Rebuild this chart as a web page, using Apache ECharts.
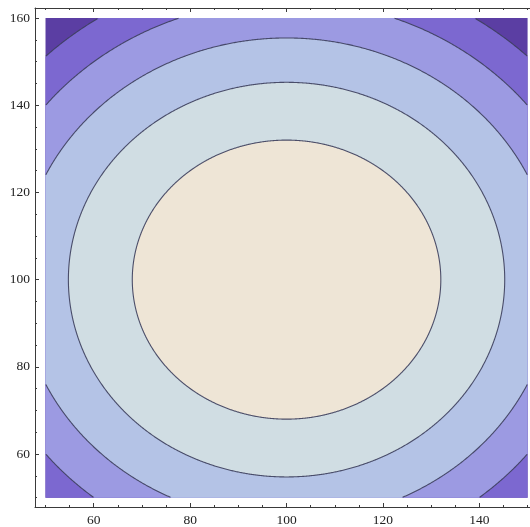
<!DOCTYPE html>
<html><head><meta charset="utf-8">
<script src="https://cdn.jsdelivr.net/npm/echarts@6/dist/echarts.min.js"></script>
<style>html,body{margin:0;padding:0;background:#fff}#c{width:530px;height:527px}</style>
</head><body><div id="c"></div>
<script>
// Plotted region and the function f(x,y) = (x-100)^2 + (y-100)^2
const xRange = [50, 150];
const yRange = [50, 160];
const centre = [100, 100];
// contour values of f (innermost first)
const contourLevels = [1024, 2048, 3072, 4096, 5120];
// band colours: inside level 0, between 0-1, ..., outside last level
const bandColors = ['#EEE5D6', '#D0DDE3', '#B4C3E6', '#9C9AE2', '#7C68D0', '#5B3EA3'];
const xTicks = [60, 80, 100, 120, 140];
const yTicks = [60, 80, 100, 120, 140, 160];

function minorTicks(lo, hi, step) {
  const out = [];
  for (let v = lo; v <= hi + 1e-9; v += step) out.push(v);
  return out;
}
const xMinor = minorTicks(50, 150, 5);
const yMinor = minorTicks(50, 160, 5);

const X_MIN = 47.82, X_MAX = 150.5, Y_MIN = 47.85, Y_MAX = 162.3;
const axisColor = '#3a3a3a';
const labelFont = { fontFamily: 'Liberation Serif', fontSize: 13.5, color: '#222' };

function clamp(v, a, b) { return Math.min(Math.max(v, a), b); }

function renderBackground(params, api) {
  const p0 = api.coord([api.value(0), api.value(1)]);
  const p1 = api.coord([api.value(2), api.value(3)]);
  return {
    type: 'rect',
    shape: { x: p0[0], y: p1[1], width: p1[0] - p0[0], height: p0[1] - p1[1] },
    style: { fill: bandColors[bandColors.length - 1] }
  };
}

function renderBand(params, api) {
  const level = api.value(0);
  const k = api.value(1);
  const r = Math.sqrt(level);
  const N = 1440;
  const fillPts = [];
  const strokes = [];
  let cur = null;
  for (let i = 0; i <= N; i++) {
    const t = 2 * Math.PI * i / N;
    const x = centre[0] + r * Math.cos(t);
    const y = centre[1] + r * Math.sin(t);
    const cx = clamp(x, xRange[0], xRange[1]);
    const cy = clamp(y, yRange[0], yRange[1]);
    const p = api.coord([cx, cy]);
    fillPts.push(p);
    if (cx === x && cy === y) {
      if (!cur) { cur = []; strokes.push(cur); }
      cur.push(p);
    } else {
      cur = null;
    }
  }
  const children = [{
    type: 'polygon',
    shape: { points: fillPts },
    style: { fill: bandColors[k], stroke: null }
  }];
  strokes.forEach(function (pts) {
    if (pts.length > 1) children.push({
      type: 'polyline',
      shape: { points: pts },
      style: { stroke: 'rgba(60,62,92,0.9)', lineWidth: 1.1, fill: null }
    });
  });
  return { type: 'group', children: children };
}

const bandData = contourLevels.map(function (v, i) { return [v, i]; }).reverse();

function xAx(position, ticks, len, showLine, showLabel) {
  return {
    type: 'value', position: position, min: X_MIN, max: X_MAX, gridIndex: 0,
    axisLine: { show: showLine, onZero: false, lineStyle: { color: axisColor, width: 1 } },
    axisTick: { show: true, inside: true, length: len, customValues: ticks, lineStyle: { color: axisColor, width: 1 } },
    axisLabel: showLabel ? Object.assign({ show: true, margin: 6, customValues: xTicks }, labelFont) : { show: false },
    splitLine: { show: false }
  };
}
function yAx(position, ticks, len, showLine, showLabel) {
  return {
    type: 'value', position: position, min: Y_MIN, max: Y_MAX, gridIndex: 0,
    axisLine: { show: showLine, onZero: false, lineStyle: { color: axisColor, width: 1 } },
    axisTick: { show: true, inside: true, length: len, customValues: ticks, lineStyle: { color: axisColor, width: 1 } },
    axisLabel: showLabel ? Object.assign({ show: true, margin: 5, customValues: yTicks }, labelFont) : { show: false },
    splitLine: { show: false }
  };
}

const chart = echarts.init(document.getElementById('c'), null, { renderer: 'canvas' });
chart.setOption({
  animation: false,
  backgroundColor: '#fff',
  grid: { left: 35, right: 0, top: 8, bottom: 18, containLabel: false },
  xAxis: [
    xAx('bottom', xTicks, 4, true, true),
    xAx('bottom', xMinor, 2, false, false),
    xAx('top', xTicks, 4, true, false),
    xAx('top', xMinor, 2, false, false)
  ],
  yAxis: [
    yAx('left', yTicks, 4, true, true),
    yAx('left', yMinor, 2, false, false)
  ],
  series: [
    { type: 'custom', xAxisIndex: 0, yAxisIndex: 0, z: 1, silent: true,
      renderItem: renderBackground,
      data: [[xRange[0], yRange[0], xRange[1], yRange[1]]] },
    { type: 'custom', xAxisIndex: 0, yAxisIndex: 0, z: 2, silent: true,
      renderItem: renderBand,
      data: bandData }
  ]
});
</script></body></html>
